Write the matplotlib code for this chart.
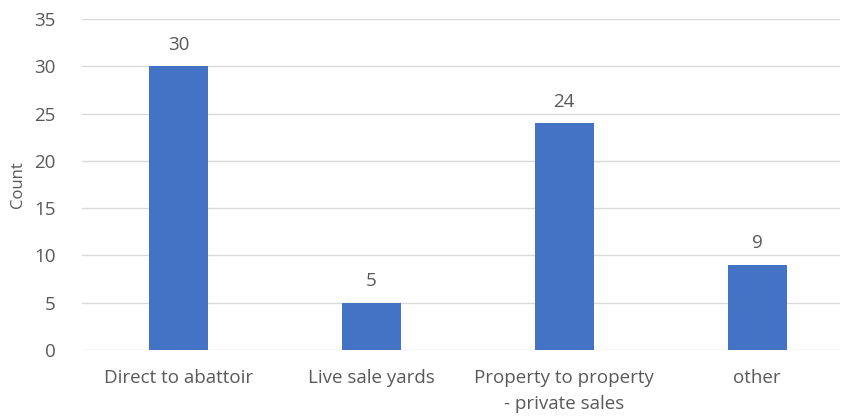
import matplotlib
matplotlib.use("Agg")
import matplotlib.pyplot as plt

categories = ["Direct to abattoir", "Live sale yards", "Property to property\n- private sales", "other"]
counts = [30, 5, 24, 9]
yticks = [0, 5, 10, 15, 20, 25, 30, 35]

plt.rcParams['font.family'] = ['Open Sans', 'DejaVu Sans']
text_col = '#595959'

fig = plt.figure(figsize=(8.42, 4.17), dpi=100)
ax = fig.add_axes([0.0974, 0.1607, 0.9002, 0.7937])

x = list(range(len(categories)))
bars = ax.bar(x, counts, width=0.306, color='#4472C4', zorder=3)
for b, v in zip(bars, counts):
    ax.annotate(str(v), (b.get_x() + b.get_width() / 2, v), xytext=(0, 9),
                textcoords='offset points', ha='center', va='bottom',
                fontsize=13.5, color=text_col)

ax.set_xlim(-0.5, 3.43)
ax.set_ylim(0, 35)
ax.set_yticks(yticks)
ax.set_xticks(x)
ax.set_xticklabels(categories, fontsize=13.5, color=text_col, linespacing=1.55)
ax.tick_params(axis='y', labelsize=13.5, colors=text_col, length=0, pad=19)
ax.tick_params(axis='x', length=0, pad=14)
ax.grid(axis='y', color='#D9D9D9', linewidth=1, zorder=0)
for s in ax.spines.values():
    s.set_visible(False)
ax.set_ylabel("Count", fontsize=12, color=text_col, labelpad=6)

fig.savefig("out.png", dpi=100)
